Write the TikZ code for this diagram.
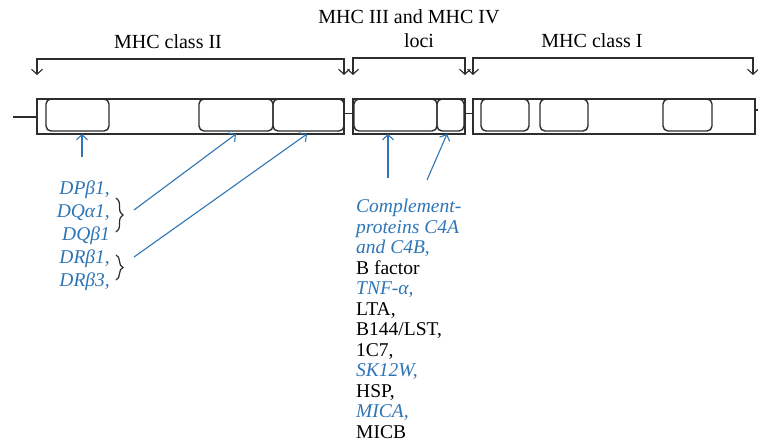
\documentclass[tikz,border=0pt]{standalone}
\usepackage{fontspec}
\setmainfont{Liberation Serif}
\usetikzlibrary{arrows.meta,positioning,decorations.pathreplacing}

\definecolor{geneblue}{RGB}{46,117,182}
\definecolor{boxgray}{RGB}{45,45,45}
\newcommand{\geneit}[1]{\textcolor{geneblue}{\itshape #1}}

\begin{document}
\begin{tikzpicture}[
  x=1pt,y=-1pt,
  segment/.style={draw=boxgray,line width=1.5pt,minimum height=35pt,inner sep=0pt,outer sep=0pt},
  locus/.style={draw=boxgray,line width=1.4pt,rounded corners=5pt,minimum height=32pt,inner sep=0pt,outer sep=0pt,anchor=north west},
  region/.style={font=\fontsize{20}{24}\selectfont,inner sep=0pt,anchor=base},
  bracket/.style={draw=boxgray,line width=1.1pt,{Straight Barb[length=5pt,width=11pt]}-{Straight Barb[length=5pt,width=11pt]}},
  pointer/.style={draw=geneblue,line width=1.1pt,-{Straight Barb[length=5pt,width=11pt]}},
  genes/.style={inner sep=0pt,font=\fontsize{19.5}{20.5}\selectfont}
]
  \useasboundingbox (0,0) rectangle (758,442);

  % chromosome segments
  \node[segment,minimum width=307pt] (classII) at (190.5,116.5) {};
  \node[segment,minimum width=112pt,right=9pt of classII] (classIII) {};
  \node[segment,minimum width=282pt,right=8pt of classIII] (classI) {};

  % loci inside the segments
  \node[locus,minimum width=63pt] (dp) at ([xshift=9pt]classII.north west) {};
  \node[locus,minimum width=74pt] (dq) at ([xshift=162pt]classII.north west) {};
  \node[locus,minimum width=71pt] (dr) at (dq.north east) {};
  \node[locus,minimum width=83pt] (c4) at ([xshift=1pt]classIII.north west) {};
  \node[locus,minimum width=27pt] (c4b) at (c4.north east) {};
  \node[locus,minimum width=48pt] (ia) at ([xshift=8pt]classI.north west) {};
  \node[locus,minimum width=48pt] (ib) at ([xshift=67pt]classI.north west) {};
  \node[locus,minimum width=49pt] (ic) at ([xshift=190pt]classI.north west) {};

  % links between segments
  \coordinate (chainstart) at (13,117);
  \coordinate (chainend) at (758,110);
  \draw[boxgray,line width=1.4pt] (chainstart) -- (chainstart -| classII.west);
  \draw[boxgray,line width=1.4pt] ([yshift=3pt]classII.east) -- ([yshift=3pt]classIII.west);
  \draw[boxgray,line width=1.4pt] ([yshift=3pt]classIII.east) -- ([yshift=3pt]classI.west);
  \draw[boxgray,line width=1.4pt] (chainend -| classI.east) -- (chainend);

  % region brackets
  \draw[bracket] ([yshift=24pt]classII.north west) -- ++(0,-16) -| ([yshift=24pt]classII.north east);
  \draw[bracket] ([yshift=24pt]classIII.north west) -- ++(0,-17) -| ([yshift=24pt]classIII.north east);
  \draw[bracket] ([yshift=24pt]classI.north west) -- ++(0,-17) -| ([xshift=-2pt,yshift=24pt]classI.north east);

  \node[region] (lblII) at (168,48) {MHC class II};
  \node[region] (lblIII) at (409,23) {MHC III and MHC IV};
  \node[region] (lblloci) at (419,47) {loci};
  \node[region] (lblI) at (592,47) {MHC class I};

  % gene lists
  \node[genes,font=\fontsize{19.5}{23}\selectfont\itshape,text=geneblue,align=right,anchor=north east] (classIIgenes) at (110,181)
    {DPβ1,\\DQα1,\\DQβ1\\DRβ1,\\DRβ3,};
  \node[genes,align=left,anchor=north west] (classIIIgenes) at (356,199)
    {\geneit{Complement-}\\\geneit{proteins C4A}\\\geneit{and C4B,}\\B factor\\\geneit{TNF-α,}\\LTA,\\B144/LST,\\1C7,\\\geneit{SK12W,}\\HSP,\\\geneit{MICA,}\\MICB};

  \draw[boxgray,line width=1.2pt,decorate,decoration={brace,amplitude=7pt}] (116,198) -- (116,232);
  \draw[boxgray,line width=1.2pt,decorate,decoration={brace,amplitude=7pt}] (116,255) -- (116,280);

  % pointers to the loci
  \coordinate (dpfrom) at (82,157);
  \coordinate (braceDQ) at (134,210);
  \coordinate (braceDR) at (134,257);
  \coordinate (c4from) at (388,178);
  \coordinate (c4bfrom) at (427,180);
  \draw[pointer] (dpfrom) -- (dpfrom |- classII.south);
  \draw[pointer] (braceDQ) -- (dq.south |- classII.south);
  \draw[pointer] (braceDR) -- ([xshift=-1.5pt]dr.south |- classII.south);
  \draw[pointer] (c4from) -- (c4from |- classIII.south);
  \draw[pointer] (c4bfrom) -- ([xshift=-3.5pt]c4b.south |- classIII.south);
\end{tikzpicture}
\end{document}
